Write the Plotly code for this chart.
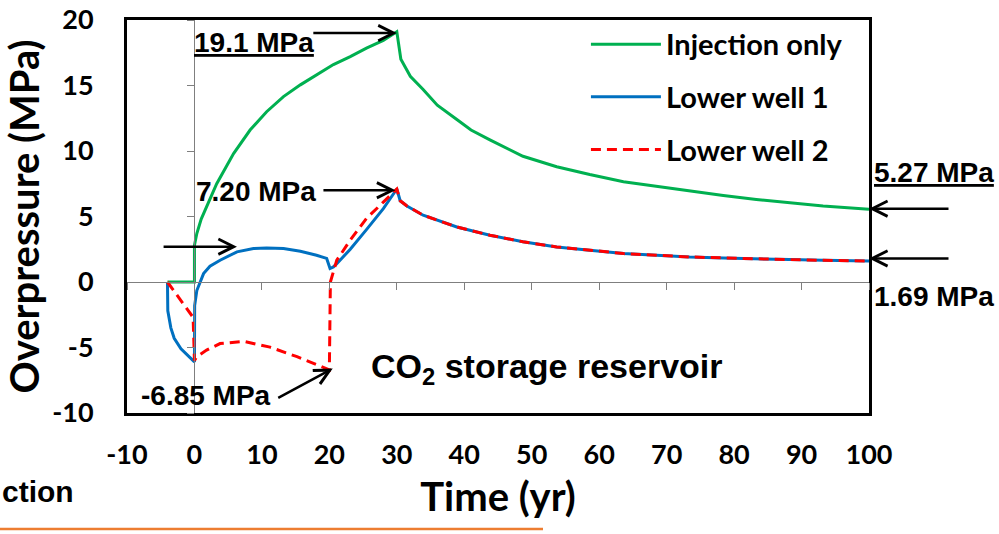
import plotly.graph_objects as go

# ---------------- data ----------------
t_inj = [-4, 0, 0, 0.35, 1.0, 1.8, 3.3, 5.8, 8.25, 10.7, 13.2, 15.7, 18.1, 20.6, 23.1, 25.5, 28.0, 30.0,
         30.6, 31.0, 32.0, 33.9, 36.0, 38.9, 41.0, 43.8, 48.7, 53.7, 58.6, 63.6, 68.5, 73.4, 78.4, 83.3,
         88.2, 93.2, 100]
p_inj = [0, 0, 2.8, 3.7, 4.8, 5.75, 7.5, 9.8, 11.6, 13.0, 14.15, 15.05, 15.8, 16.6, 17.2, 17.85, 18.45, 19.1,
         17.0, 16.6, 15.7, 14.7, 13.5, 12.4, 11.6, 10.85, 9.6, 8.8, 8.2, 7.65, 7.3, 6.9, 6.6, 6.3,
         6.05, 5.8, 5.55]

t_w1 = [-4, -3.95, -3.5, -3, -2, -1, 0, 0.03, 0.35, 1.35, 2.3, 3.8, 6.3, 8.75, 10.7, 13.2, 15.7, 18.1, 19.6,
        20.1, 20.6, 21.1, 23.1, 25.5, 28.0, 30.0, 30.5, 31.5, 33.9, 38.9, 43.8, 48.7, 53.7, 58.6, 63.6,
        68.5, 73.4, 78.4, 83.3, 88.2, 93.2, 100]
p_w1 = [0, -2.2, -3.5, -4.3, -5.1, -5.6, -6.1, -1.8, -0.65, 0.64, 1.2, 1.66, 2.3, 2.55, 2.6, 2.55, 2.35, 2.04, 1.8,
        1.03, 1.15, 1.4, 2.5, 4.0, 5.6, 7.1, 6.2, 5.8, 5.1, 4.2, 3.57, 3.07, 2.68, 2.43, 2.17,
        2.04, 1.91, 1.84, 1.76, 1.71, 1.66, 1.6]

t_w2 = [-4, -0.2, 0, 0.35, 1.8, 3.8, 7.3, 11.2, 15.2, 18.0, 20.0, 20.15, 20.4, 21.1, 23.1, 25.5, 28.0, 30.0,
        30.5, 31.5, 33.9, 38.9, 43.8, 48.7, 53.7, 58.6, 63.6, 68.5, 73.4, 78.4, 83.3, 88.2, 93.2, 100]
p_w2 = [0, -2.7, -6.0, -5.7, -5.2, -4.7, -4.53, -4.97, -5.7, -6.25, -6.7, 0.0, 0.4, 1.66, 3.2, 4.85, 6.1, 7.1,
        6.2, 5.8, 5.1, 4.2, 3.57, 3.07, 2.68, 2.43, 2.17, 2.04, 1.91, 1.84, 1.76, 1.71, 1.66, 1.6]

x_ticks = [-10, 0, 10, 20, 30, 40, 50, 60, 70, 80, 90, 100]
x_ticktext = ["-10", "0", "10", "20", "30", "40", "50", "60", "70", "80", "90", "100"]
y_ticks = [-10, -5, 0, 5, 10, 15, 20]
y_ticktext = ["-10", "-5", "0", "5", "10", "15", "20"]
x_range = [-10, 100]
y_range = [-10, 20]

LABEL_FONT = "Lato, Open Sans, sans-serif"
NOTE_FONT = "Liberation Sans, Arial, sans-serif"

fig = go.Figure()
fig.add_trace(go.Scatter(x=t_inj, y=p_inj, mode="lines", name="Injection only",
                         line=dict(color="#00B050", width=3), legendgroup="a"))
fig.add_trace(go.Scatter(x=t_w1, y=p_w1, mode="lines", name="Lower well 1",
                         line=dict(color="#0070C0", width=3), legendgroup="b"))
fig.add_trace(go.Scatter(x=t_w2, y=p_w2, mode="lines", name="Lower well 2",
                         line=dict(color="#FF0000", width=3, dash="10px,6px"), legendgroup="c"))
# empty trace so that the origin-crossing axes (x2/y2) get drawn
fig.add_trace(go.Scatter(x=[], y=[], xaxis="x2", yaxis="y2", showlegend=False, hoverinfo="skip"))

tickfont = dict(family=LABEL_FONT, size=27, color="black", weight="bold")

fig.update_layout(
    width=999, height=534,
    margin=dict(l=127, r=130, t=20, b=121, autoexpand=False),
    paper_bgcolor="white", plot_bgcolor="white",
    showlegend=True,
    legend=dict(x=0.6185, y=1.003, xanchor="left", yanchor="top",
                bgcolor="rgba(0,0,0,0)", font=dict(family=LABEL_FONT, size=29, color="black", weight="bold"),
                itemwidth=70, tracegroupgap=12),
    xaxis=dict(range=x_range, tickvals=x_ticks, ticktext=x_ticktext, showgrid=False, zeroline=False,
               showline=True, mirror=True, linecolor="black", linewidth=3, automargin=False,
               ticks="", tickfont=tickfont, ticklabelstandoff=16,
               title=dict(text="Time (yr)", font=dict(family=LABEL_FONT, size=40, color="black", weight="bold"),
                          standoff=14)),
    yaxis=dict(range=y_range, tickvals=y_ticks, ticktext=y_ticktext, showgrid=False, zeroline=False,
               showline=True, mirror=True, linecolor="black", linewidth=3, automargin=False,
               ticks="", tickfont=tickfont, ticklabelstandoff=25,
               title=dict(text="Overpressure (MPa)", font=dict(family=LABEL_FONT, size=40, color="black", weight="bold"),
                          standoff=8)),
    # thin axes crossing at the origin (Excel style)
    xaxis2=dict(overlaying="x", anchor="free", position=(0 - y_range[0]) / (y_range[1] - y_range[0]),
                range=x_range, tickvals=x_ticks, showticklabels=False, showgrid=False, zeroline=False,
                showline=True, linecolor="#7f7f7f", linewidth=1, ticks="outside", ticklen=7,
                tickcolor="#7f7f7f", tickwidth=1, automargin=False),
    yaxis2=dict(overlaying="y", anchor="free", side="left",
                position=(0 - x_range[0]) / (x_range[1] - x_range[0]),
                range=y_range, tickvals=y_ticks, showticklabels=False, showgrid=False, zeroline=False,
                showline=True, linecolor="#7f7f7f", linewidth=1, ticks="outside", ticklen=7,
                tickcolor="#7f7f7f", tickwidth=1, automargin=False),
)

note = dict(family=NOTE_FONT, size=28, color="black", weight="bold")
arrow = dict(showarrow=True, arrowhead=5, arrowsize=1.2, arrowwidth=2.5, arrowcolor="black",
             standoff=0, startstandoff=0, text="")

# arrows pointing at the curves
fig.add_annotation(x=30, y=19.0, ax=17.4, ay=19.0, axref="x", ayref="y", **arrow)
fig.add_annotation(x=29.8, y=7.0, ax=18.9, ay=7.0, axref="x", ayref="y", **arrow)
fig.add_annotation(x=6.3, y=2.7, ax=-4.8, ay=2.7, axref="x", ayref="y", **arrow)
fig.add_annotation(x=20.5, y=-6.6, ax=12.2, ay=-8.9, axref="x", ayref="y", **arrow)
fig.add_annotation(x=100, y=5.6, ax=81, ay=0, **arrow)
fig.add_annotation(x=100, y=1.8, ax=81, ay=0, **arrow)

# value labels
fig.add_annotation(x=8.8, y=18.3, text="<u>19.1 MPa</u>", showarrow=False, font=note)
fig.add_annotation(x=9.1, y=6.9, text="7.20 MPa", showarrow=False, font=note)
fig.add_annotation(x=1.7, y=-8.7, text="-6.85 MPa", showarrow=False, font=note)
fig.add_annotation(x=1.004, y=0.611, xref="paper", yref="paper", xanchor="left", yanchor="middle",
                   text="<u>5.27 MPa</u>", showarrow=False, font=note)
fig.add_annotation(x=1.004, y=0.296, xref="paper", yref="paper", xanchor="left", yanchor="middle",
                   text="1.69 MPa", showarrow=False, font=note)
fig.add_annotation(x=52.3, y=-6.6, text="CO<sub>2</sub> storage reservoir", showarrow=False,
                   font=dict(family=NOTE_FONT, size=34, color="black", weight="bold"))

# slide remnants outside the chart
fig.add_annotation(x=-127 / 742, y=-0.201, xref="paper", yref="paper", xanchor="left", yanchor="middle",
                   text="ction", showarrow=False,
                   font=dict(family=NOTE_FONT, size=30, color="black", weight="bold"))
fig.add_shape(type="line", xref="paper", yref="paper", x0=-127 / 742, x1=(543 - 127) / 742,
              y0=(413 - 529) / 393, y1=(413 - 529) / 393, line=dict(color="#ED7D31", width=2.5))

# remove the default 8px page margin so the 999x534 figure fills the window exactly
fig.write_html("out.html", config={"displayModeBar": False},
               post_script="document.body.style.margin='0';")
